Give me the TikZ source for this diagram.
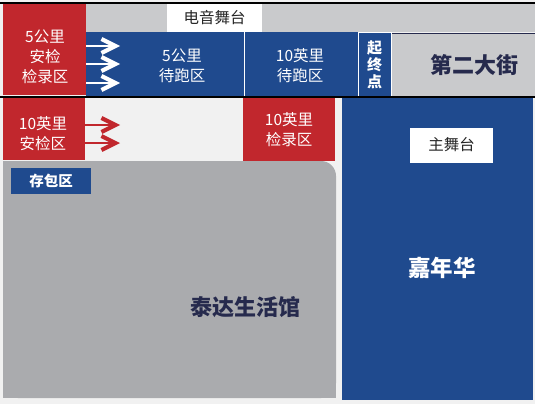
\documentclass[tikz,border=0pt]{standalone}
\usepackage{fontspec}
\setmainfont{Noto Sans CJK SC}
\usepackage{xcolor}
\usetikzlibrary{arrows.meta}

\definecolor{zonered}{HTML}{C1272D}
\definecolor{zoneblue}{HTML}{1F4A8E}
\definecolor{streetgray}{HTML}{C9CACC}
\definecolor{hallgray}{HTML}{AAABAE}
\definecolor{pavement}{HTML}{F1F1F1}
\definecolor{navytext}{HTML}{262A4D}

\begin{document}
\begin{tikzpicture}[
  x=1pt, y=-1pt,
  every node/.style={font=\fontsize{15.5}{20}\selectfont, align=center, inner sep=0},
  lbl/.style={text=white},
  bold/.style={font=\fontsize{22}{26}\selectfont\bfseries, text=navytext},
  stage/.style={fill=white, text=black!85},
  warr/.style={-{Straight Barb[length=14pt, width=14pt, line width=1.5pt 1]}, line width=2.6pt, white},
  rarr/.style={warr, zonered},
]

\useasboundingbox (0,0) rectangle (535,404);
\fill[pavement] (0,0) rectangle (535,404);

%% ── top row: street and start area ───────────────────────────────────────
\fill[streetgray] (86,4) rectangle (535,32);
\fill[streetgray] (392,33) rectangle (535,96);
\draw[navytext, line width=1.5pt] (392,33.5) -- (535,33.5);
\fill[zonered] (3,4) rectangle (86,95);
\fill[zoneblue] (86,32) rectangle (392,96);
\draw[white, line width=1pt] (244,32) -- (244,96);
\draw[white, line width=1pt] (358.5,32.5) rectangle (391.5,96);
\node[stage, minimum width=95pt, minimum height=28pt] (edm) at (214.5,18) {电音舞台};

\node[lbl] (safe5) at (45,57) {5公里\\安检\\检录区};
\node[lbl] (wait5) at (182,66) {5公里\\待跑区};
\node[lbl] (wait10) at (300,66) {10英里\\待跑区};
\node[lbl, font=\fontsize{15}{17}\selectfont\bfseries] (start) at (374.5,65) {起\\终\\点};
\node[bold] (street) at (474,65) {第二大街};

\foreach \i/\y in {1/46,2/64,3/83} {
  \coordinate (w\i) at (86,\y);
  \draw[warr] (w\i) -- ++(34,0);
}

%% ── separating lines ─────────────────────────────────────────────────────
\draw[black, line width=1.6pt] (0,3) -- (535,3);
\draw[black, line width=1.6pt] (0,97) -- (535,97);

%% ── second row: 10 mile area, hall and carnival ──────────────────────────
\fill[zonered] (3,98) rectangle (85,160);
\fill[zonered] (243,98) rectangle (335,161);
\fill[zoneblue] (342,98) rectangle (533,400);
\fill[hallgray, rounded corners=15pt] (3,161) rectangle (336,398);
\fill[hallgray] (3,161) rectangle (250,398);
\fill[hallgray] (3,250) rectangle (336,398);

\node[lbl] (safe10) at (43,134) {10英里\\安检区};
\node[lbl] (check10) at (289,130) {10英里\\检录区};
\foreach \i/\y in {1/125,2/143} {
  \coordinate (r\i) at (85,\y);
  \draw[rarr] (r\i) -- ++(35,0);
}

\node[fill=zoneblue, text=white, font=\fontsize{14.5}{16}\selectfont\bfseries,
  minimum width=80pt, minimum height=26pt] (bag) at (51,181) {存包区};
\node[bold] (hall) at (245,307) {泰达生活馆};

\node[stage, minimum width=83pt, minimum height=35pt] (mainstage) at (451.5,145) {主舞台};
\node[bold, text=white, font=\fontsize{22.5}{26}\selectfont\bfseries] (carnival) at (442,268) {嘉年华};

\end{tikzpicture}
\end{document}
